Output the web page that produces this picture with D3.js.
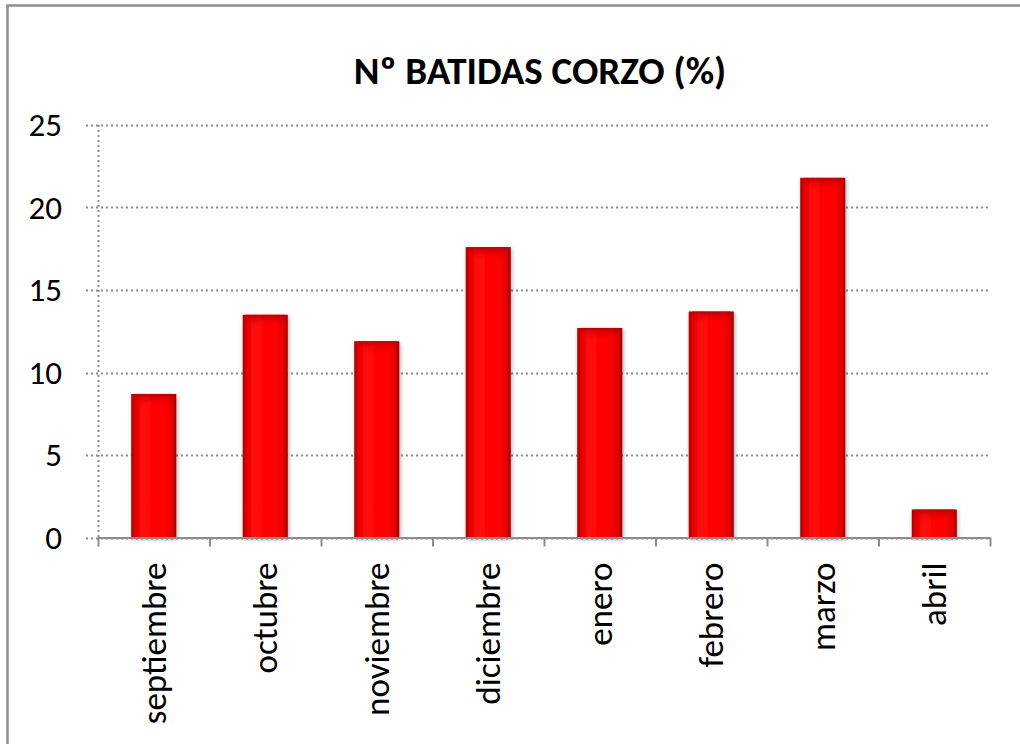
<!DOCTYPE html>
<html>
<head>
<meta charset="utf-8">
<script src="https://cdn.jsdelivr.net/npm/d3@7"></script>
<style>
  body { margin: 0; background: #fff; }
  svg { display: block; font-family: Carlito, "Open Sans", "Liberation Sans", sans-serif; }
</style>
</head>
<body>
<div id="chart"></div>
<script>
// months and percentage of batidas
var months = ["septiembre", "octubre", "noviembre", "diciembre", "enero", "febrero", "marzo", "abril"];
var values = [8.7, 13.5, 11.9, 17.6, 12.7, 13.7, 21.8, 1.7];
var yTicks = [0, 5, 10, 15, 20, 25];

var W = 1020, H = 744;
var margin = {top: 125, left: 98};
var width = 990 - margin.left,
  height = 537.5 - margin.top;

var svg = d3.select("#chart").append("svg")
  .attr("width", W)
  .attr("height", H);

// chart frame (only top and left edges show in the picture)
svg.append("rect")
  .attr("x", 7.5).attr("y", 5.5)
  .attr("width", W + 20).attr("height", H + 20)
  .attr("fill", "none")
  .attr("stroke", "#8c8c8c")
  .attr("stroke-width", 2.5);

var defs = svg.append("defs");

// horizontal shading so the bars look like Excel's rounded bars
var grad = defs.append("linearGradient").attr("id", "barGrad")
  .attr("x1", "0%").attr("x2", "100%").attr("y1", "0%").attr("y2", "0%");
grad.append("stop").attr("offset", "0%").attr("stop-color", "#a80000");
grad.append("stop").attr("offset", "8%").attr("stop-color", "#e00000");
grad.append("stop").attr("offset", "25%").attr("stop-color", "#ff0a0a");
grad.append("stop").attr("offset", "75%").attr("stop-color", "#ff0000");
grad.append("stop").attr("offset", "92%").attr("stop-color", "#dd0000");
grad.append("stop").attr("offset", "100%").attr("stop-color", "#9a0000");

var topGrad = defs.append("linearGradient").attr("id", "topGrad")
  .attr("x1", "0%").attr("x2", "0%").attr("y1", "0%").attr("y2", "100%");
topGrad.append("stop").attr("offset", "0%").attr("stop-color", "#b00000").attr("stop-opacity", 0.8);
topGrad.append("stop").attr("offset", "100%").attr("stop-color", "#ff0000").attr("stop-opacity", 0);

var shadow = defs.append("filter").attr("id", "shadow")
  .attr("x", "-30%").attr("y", "-10%").attr("width", "160%").attr("height", "120%");
shadow.append("feDropShadow")
  .attr("dx", 1).attr("dy", 2).attr("stdDeviation", 2)
  .attr("flood-color", "#000").attr("flood-opacity", 0.35);

// title
svg.append("text")
  .attr("x", 540)
  .attr("y", 84)
  .attr("text-anchor", "middle")
  .style("font-size", "39px")
  .style("font-weight", "bold")
  .text("Nº BATIDAS CORZO (%)");

var g = svg.append("g")
  .attr("transform", "translate(" + margin.left + "," + margin.top + ")");

var x = d3.scaleBand().domain(months).range([0, width]).paddingInner(0.596).paddingOuter(0.298);
var y = d3.scaleLinear().domain([0, 25]).range([height, 0]);

// dotted gridlines (they stick out a little to the left of the axis)
g.selectAll(".grid")
  .data(yTicks)
  .enter().append("line")
  .attr("class", "grid")
  .attr("x1", -12).attr("x2", width)
  .attr("y1", function(d) { return Math.round(y(d)) + 0.5; })
  .attr("y2", function(d) { return Math.round(y(d)) + 0.5; })
  .attr("stroke", "#8c8c8c")
  .attr("stroke-width", 2)
  .attr("stroke-dasharray", "2,3");

// y axis is dotted too
g.append("line")
  .attr("x1", 0.5).attr("x2", 0.5)
  .attr("y1", y(25)).attr("y2", height)
  .attr("stroke", "#8c8c8c")
  .attr("stroke-width", 2)
  .attr("stroke-dasharray", "2,3");

var yAxis = g.append("g")
  .call(d3.axisLeft(y).tickValues(yTicks).tickSize(0).tickPadding(36));
yAxis.select(".domain").remove();
yAxis.selectAll("text")
  .style("font-size", "33px")
  .style("font-family", "Carlito, 'Open Sans', 'Liberation Sans', sans-serif")
  .attr("fill", "#000");

// bars
var bars = g.selectAll(".bar")
  .data(values)
  .enter().append("g")
  .attr("class", "bar");

bars.append("rect")
  .attr("x", function(d, i) { return x(months[i]); })
  .attr("y", function(d) { return y(d); })
  .attr("width", x.bandwidth())
  .attr("height", function(d) { return height - y(d); })
  .attr("fill", "url(#barGrad)")
  .attr("filter", "url(#shadow)");

bars.append("rect")
  .attr("x", function(d, i) { return x(months[i]) + 3; })
  .attr("y", function(d) { return y(d); })
  .attr("width", x.bandwidth() - 6)
  .attr("height", function(d) { return Math.min(14, height - y(d)); })
  .attr("fill", "url(#topGrad)");

// x axis: solid line with ticks between categories
var xBounds = d3.range(months.length + 1).map(function(i) { return i * width / months.length; });
g.append("line")
  .attr("x1", 0).attr("x2", width)
  .attr("y1", height + 0.5).attr("y2", height + 0.5)
  .attr("stroke", "#8c8c8c")
  .attr("stroke-width", 2);
g.selectAll(".xtick")
  .data(xBounds)
  .enter().append("line")
  .attr("class", "xtick")
  .attr("x1", function(d) { return d + 0.5; })
  .attr("x2", function(d) { return d + 0.5; })
  .attr("y1", height).attr("y2", height + 9)
  .attr("stroke", "#8c8c8c")
  .attr("stroke-width", 2);

// rotated month labels
g.selectAll(".xlabel")
  .data(months)
  .enter().append("text")
  .attr("class", "xlabel")
  .attr("transform", function(d) {
    return "translate(" + (x(d) + x.bandwidth() / 2 + 12) + "," + (height + 25) + ") rotate(-90)";
  })
  .attr("text-anchor", "end")
  .style("font-size", "35px")
  .text(function(d) { return d; });
</script>
</body>
</html>
